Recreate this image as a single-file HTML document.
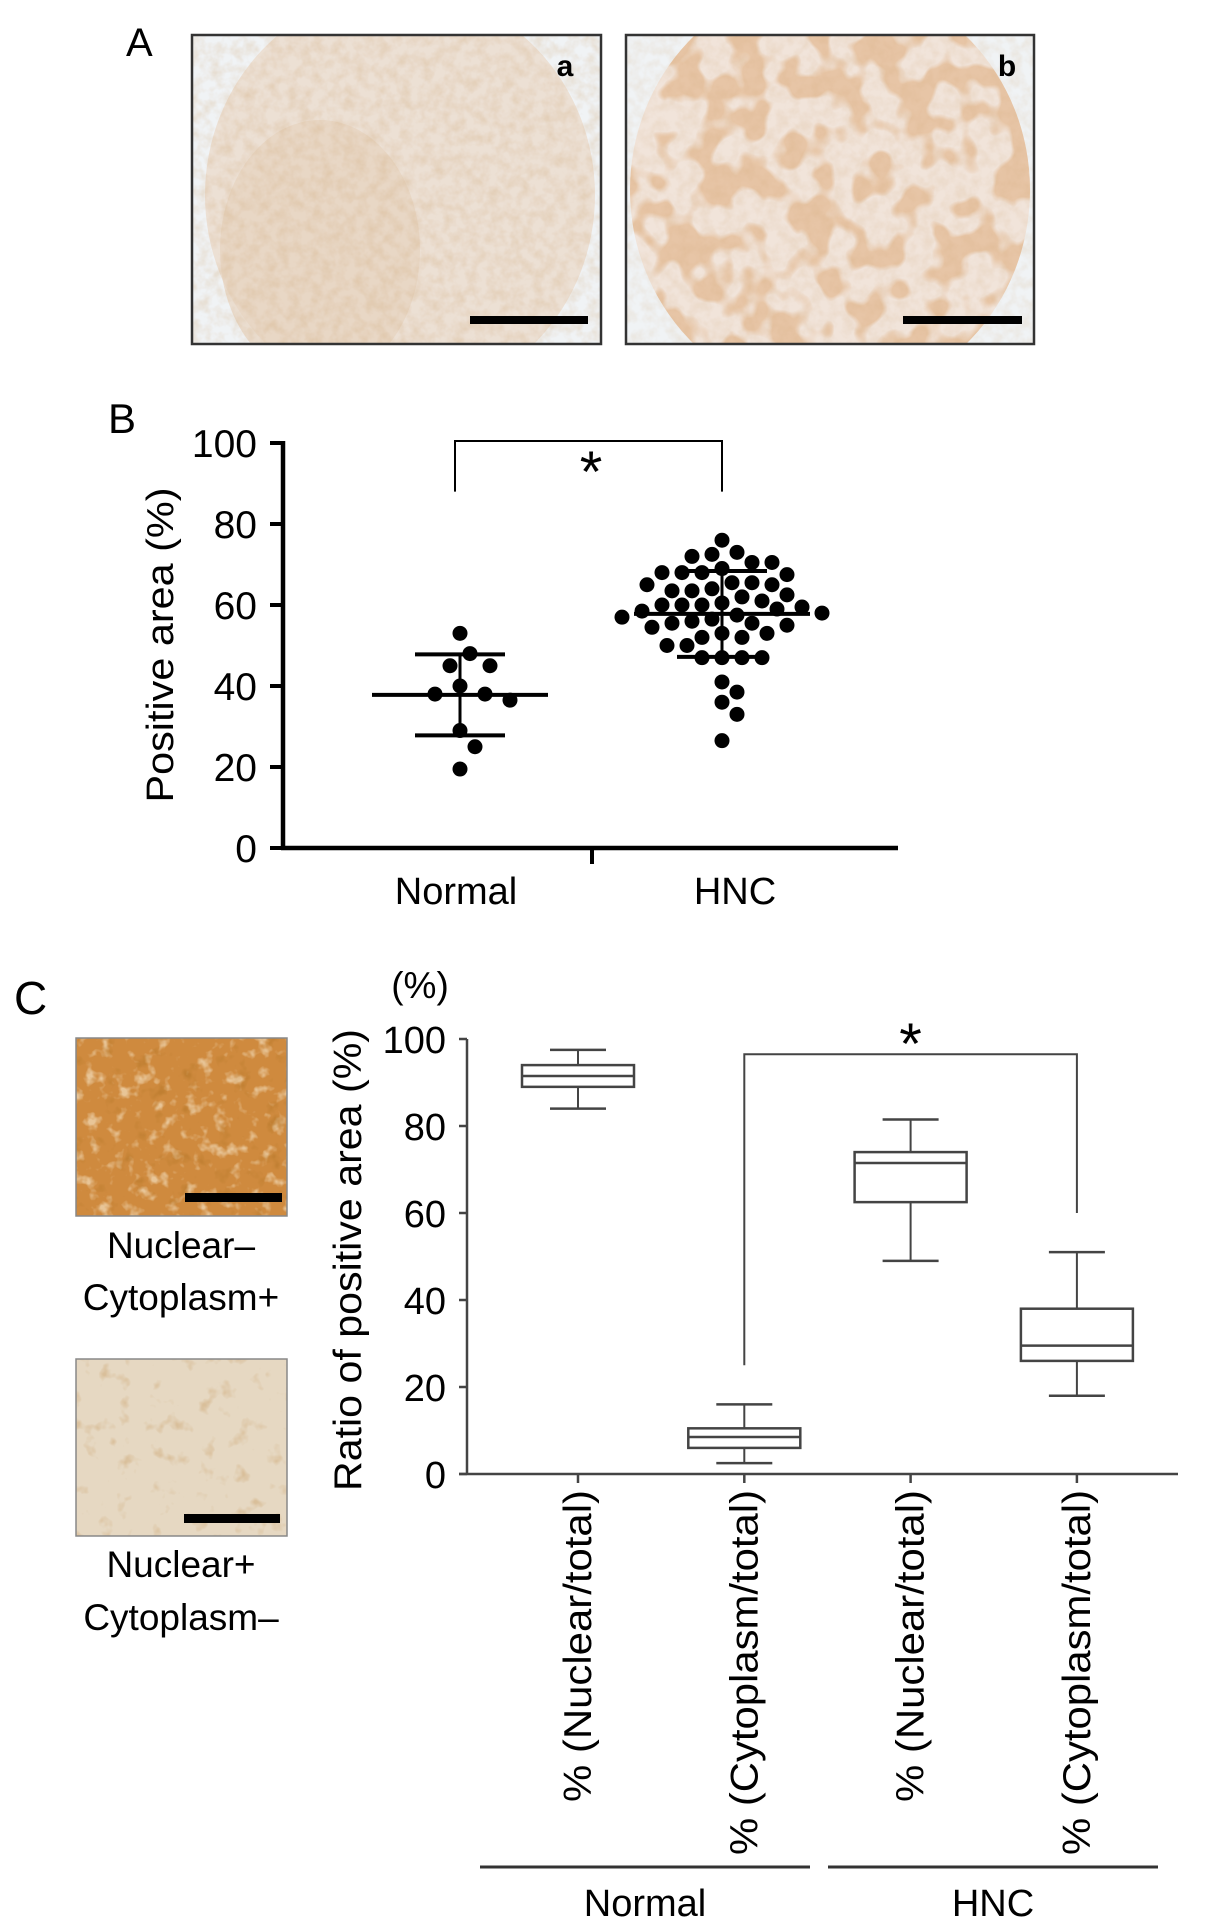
<!DOCTYPE html>
<html><head><meta charset="utf-8"><style>
html,body{margin:0;padding:0;background:#fff;}
svg{display:block;font-family:"Liberation Sans",Arial,sans-serif;}
</style></head><body>
<svg id="fig" width="1205" height="1932" viewBox="0 0 1205 1932">
<defs>
<filter id="tex" x="0" y="0" width="100%" height="100%">
<feTurbulence type="fractalNoise" baseFrequency="0.09" numOctaves="3" seed="3"/>
<feColorMatrix type="matrix" values="0 0 0 0 0.6  0 0 0 0 0.35  0 0 0 0 0.15  0 0 0 1.6 -0.55"/>
</filter>
<filter id="blob" x="0" y="0" width="100%" height="100%">
<feTurbulence type="fractalNoise" baseFrequency="0.03" numOctaves="2" seed="7"/>
<feColorMatrix type="matrix" values="0 0 0 0 0.80  0 0 0 0 0.56  0 0 0 0 0.38  0 0 0 9 -4.2"/>
</filter>
<filter id="cells" x="0" y="0" width="100%" height="100%">
<feTurbulence type="fractalNoise" baseFrequency="0.07" numOctaves="3" seed="11"/>
<feColorMatrix type="matrix" values="0 0 0 0 0.98  0 0 0 0 0.92  0 0 0 0 0.75  0 0 0 4 -2.2"/>
</filter>
<filter id="cells2" x="0" y="0" width="100%" height="100%">
<feTurbulence type="fractalNoise" baseFrequency="0.06" numOctaves="3" seed="5"/>
<feColorMatrix type="matrix" values="0 0 0 0 0.45  0 0 0 0 0.18  0 0 0 0 0.02  0 0 0 4 -2.4"/>
</filter>
<clipPath id="ca"><rect x="192" y="35" width="409" height="309"/></clipPath>
<clipPath id="cb"><rect x="626" y="35" width="408" height="309"/></clipPath>
<clipPath id="cbe"><ellipse cx="830" cy="190" rx="200" ry="210"/></clipPath>
<clipPath id="cc1"><rect x="76" y="1038" width="211" height="178"/></clipPath>
<clipPath id="cc2"><rect x="76" y="1359" width="211" height="177"/></clipPath>
</defs>

<!-- Panel A -->
<text x="126" y="56" font-size="40">A</text>
<g clip-path="url(#ca)">
<rect x="192" y="35" width="409" height="309" fill="#f0f3f5"/>
<ellipse cx="400" cy="195" rx="195" ry="205" fill="#ece0d4"/>
<ellipse cx="320" cy="250" rx="100" ry="130" fill="#e7d3bf" opacity="0.7"/>
<rect x="192" y="35" width="409" height="309" filter="url(#tex)" opacity="0.3"/>
</g>
<rect x="192" y="35" width="409" height="309" fill="none" stroke="#333" stroke-width="2.5"/>
<text x="565" y="76" font-size="30" font-weight="bold" text-anchor="middle">a</text>
<rect x="470" y="316" width="118" height="8" fill="#000"/>

<g clip-path="url(#cb)">
<rect x="626" y="35" width="408" height="309" fill="#f0f3f5"/>
<ellipse cx="830" cy="190" rx="200" ry="210" fill="#f1e4da"/>
<g clip-path="url(#cbe)"><rect x="626" y="35" width="408" height="309" filter="url(#blob)"/></g>
<rect x="626" y="35" width="408" height="309" filter="url(#tex)" opacity="0.2"/>
</g>
<rect x="626" y="35" width="408" height="309" fill="none" stroke="#333" stroke-width="2.5"/>
<text x="1007" y="76" font-size="30" font-weight="bold" text-anchor="middle">b</text>
<rect x="903" y="316" width="119" height="8" fill="#000"/>

<!-- Panel B -->
<text x="108" y="433" font-size="42">B</text>
<g id="chartB"></g>

<!-- Panel C -->
<text x="14" y="1014" font-size="46">C</text>
<g clip-path="url(#cc1)">
<rect x="76" y="1038" width="211" height="178" fill="#cf8a3e"/>
<rect x="76" y="1038" width="211" height="178" filter="url(#cells)" opacity="0.55"/>
<rect x="76" y="1038" width="211" height="178" filter="url(#cells2)" opacity="0.5"/>
</g>
<rect x="76" y="1038" width="211" height="178" fill="none" stroke="#888" stroke-width="1.5"/>
<rect x="185" y="1193" width="97" height="9" fill="#000"/>
<text x="181" y="1258" font-size="37" text-anchor="middle">Nuclear–</text>
<text x="181" y="1310" font-size="37" text-anchor="middle">Cytoplasm+</text>

<g clip-path="url(#cc2)">
<rect x="76" y="1359" width="211" height="177" fill="#e6d8c2"/>
<rect x="76" y="1359" width="211" height="177" filter="url(#cells2)" opacity="0.25"/>
</g>
<rect x="76" y="1359" width="211" height="177" fill="none" stroke="#888" stroke-width="1.5"/>
<rect x="184" y="1514" width="96" height="9" fill="#000"/>
<text x="181" y="1577" font-size="37" text-anchor="middle">Nuclear+</text>
<text x="181" y="1630" font-size="37" text-anchor="middle">Cytoplasm–</text>

<g id="chartC"></g>
</svg>
<script>
// ---------- Chart B data ----------
const bCategories = ["Normal", "HNC"];
const normalValues = [53, 48, 45, 45, 40, 38, 38, 36.5, 29, 25, 19.5];
const hncValues = [76, 73, 72.5, 72, 70.5, 70.5, 69, 68, 68, 68, 67.5, 65.5, 65.5, 65, 65, 64, 63.5, 63.5, 62, 60.5, 60, 60, 59.5, 59, 58.5, 58, 57.5, 57, 56.5, 56, 55.5, 55, 60, 61, 62.5, 55.5, 54.5, 53, 53, 52, 52, 50, 50, 47, 47, 47, 47, 41, 38.5, 36, 33, 26.5];
const bMeans = [37.8, 57.8];
const bSD = [10, 10.6];
const bTicks = [0, 20, 40, 60, 80, 100];
const bBracketLevel = 88;

// ---------- Chart C data ----------
const cCategories = ["% (Nuclear/total)", "% (Cytoplasm/total)", "% (Nuclear/total)", "% (Cytoplasm/total)"];
const cGroups = ["Normal", "HNC"];
const cMin = [84, 2.5, 49, 18];
const cQ1 = [89, 6, 62.5, 26];
const cMedian = [91.5, 8.5, 71.5, 29.5];
const cQ3 = [94, 10.5, 74, 38];
const cMax = [97.5, 16, 81.5, 51];
const cTicks = [0, 20, 40, 60, 80, 100];
const cBracket = {top: 96.5, left: 25, right: 60};

const NS = "http://www.w3.org/2000/svg";
function mk(parent, tag, attrs, text) {
  const e = document.createElementNS(NS, tag);
  for (const k in attrs) e.setAttribute(k, attrs[k]);
  if (text !== undefined) e.textContent = text;
  parent.appendChild(e);
  return e;
}

// ---------- Draw B ----------
(function(){
  const g = document.getElementById("chartB");
  const x0 = 283, x1 = 898, y0 = 848, y100 = 443;
  const yS = v => y0 - (v / 100) * (y0 - y100);
  const xS = i => [460, 722][i];
  let e;
  e = mk(g, "line", {x1: x0, y1: y100 - 2, x2: x0, y2: y0 + 2, stroke: "#000", "stroke-width": 4.5});
  
  
  e = mk(g, "line", {x1: x0 - 2, y1: y0, x2: x1, y2: y0, stroke: "#000", "stroke-width": 4.5});
  
  
  mk(g, "line", {x1: 592, y1: y0, x2: 592, y2: y0 + 16, stroke: "#000", "stroke-width": 4});
  bTicks.forEach(t => {
    mk(g, "line", {x1: x0 - 13, y1: yS(t), x2: x0, y2: yS(t), stroke: "#000", "stroke-width": 4});
    e = mk(g, "text", {x: 257, y: yS(t) + 14, "font-size": 39, "text-anchor": "end"}, String(t));
    
    
  });
  e = mk(g, "text", {transform: "translate(173,645) rotate(-90)", "font-size": 38, "text-anchor": "middle", textLength: 315, lengthAdjust: "spacingAndGlyphs"}, "Positive area (%)");
  
  
  const labelX = [456, 735];
  bCategories.forEach((c, i) => {
    e = mk(g, "text", {x: labelX[i], y: 904, "font-size": 38, "text-anchor": "middle"}, c);
    
    
  });
  e = mk(g, "polyline", {points: `${xS(0)-5},${yS(bBracketLevel)} ${xS(0)-5},${yS(100)-2} ${xS(1)},${yS(100)-2} ${xS(1)},${yS(bBracketLevel)}`, fill: "none", stroke: "#000", "stroke-width": 2});
  
  
  e = mk(g, "text", {x: (xS(0) + xS(1)) / 2, y: 492, "font-size": 58, "text-anchor": "middle"}, "*");
  
  
  const r = 7.5;
  [normalValues, hncValues].forEach((vals, gi) => {
    const placed = [];
    const sorted = vals.slice().sort((a, b) => b - a);
    const minD = gi === 0 ? 2 * r + 7 : 2 * r + 2;
    sorted.forEach(v => {
      const y = yS(v);
      let k = 0, x;
      while (true) {
        const off = (k === 0 ? 0 : (k % 2 ? 1 : -1) * Math.ceil(k / 2) * 5);
        x = xS(gi) + off;
        if (placed.every(p => Math.hypot(p[0] - x, p[1] - y) >= minD)) break;
        k++;
      }
      placed.push([x, y]);
      const c = mk(g, "circle", {cx: x, cy: y, r: r, fill: "#000"});
      
      
    });
    const cx = xS(gi), m = bMeans[gi], s = bSD[gi];
    e = mk(g, "line", {x1: cx - 88, y1: yS(m), x2: cx + 88, y2: yS(m), stroke: "#000", "stroke-width": 4});
    
    
    mk(g, "line", {x1: cx, y1: yS(m + s), x2: cx, y2: yS(m - s), stroke: "#000", "stroke-width": 3});
    mk(g, "line", {x1: cx - 45, y1: yS(m + s), x2: cx + 45, y2: yS(m + s), stroke: "#000", "stroke-width": 4});
    mk(g, "line", {x1: cx - 45, y1: yS(m - s), x2: cx + 45, y2: yS(m - s), stroke: "#000", "stroke-width": 4});
  });
})();

// ---------- Draw C ----------
(function(){
  const g = document.getElementById("chartC");
  const x0 = 467, x1 = 1178, y0 = 1474, y100 = 1039;
  const yS = v => y0 - (v / 100) * (y0 - y100);
  const xS = i => 578 + i * 166.3;
  const col = "#444";
  let e;
  e = mk(g, "line", {x1: x0, y1: y100, x2: x0, y2: y0, stroke: col, "stroke-width": 2.5});
  
  
  e = mk(g, "line", {x1: x0 - 8, y1: y0, x2: x1, y2: y0, stroke: col, "stroke-width": 2.5});
  
  
  cTicks.forEach(t => {
    mk(g, "line", {x1: x0 - 8, y1: yS(t), x2: x0, y2: yS(t), stroke: col, "stroke-width": 2.5});
    e = mk(g, "text", {x: 446, y: yS(t) + 14, "font-size": 38, "text-anchor": "end"}, String(t));
    
    
  });
  e = mk(g, "text", {x: 420, y: 998, "font-size": 37, "text-anchor": "middle"}, "(%)");
  
  
  e = mk(g, "text", {transform: "translate(361,1260) rotate(-90)", "font-size": 39, "text-anchor": "middle", textLength: 462, lengthAdjust: "spacingAndGlyphs"}, "Ratio of positive area (%)");
  
  
  cCategories.forEach((c, i) => {
    const cx = xS(i);
    mk(g, "line", {x1: cx, y1: y0, x2: cx, y2: y0 + 9, stroke: col, "stroke-width": 2.5});
    const len = i % 2 ? 365 : 312;
    e = mk(g, "text", {transform: `translate(${cx + 13},1490) rotate(-90)`, "font-size": 39, "text-anchor": "end", textLength: len, lengthAdjust: "spacingAndGlyphs"}, c);
    
    
    const bw = 56, cw = 28;
    mk(g, "line", {x1: cx, y1: yS(cMax[i]), x2: cx, y2: yS(cQ3[i]), stroke: col, "stroke-width": 2});
    mk(g, "line", {x1: cx, y1: yS(cQ1[i]), x2: cx, y2: yS(cMin[i]), stroke: col, "stroke-width": 2});
    mk(g, "line", {x1: cx - cw, y1: yS(cMax[i]), x2: cx + cw, y2: yS(cMax[i]), stroke: col, "stroke-width": 2.5});
    mk(g, "line", {x1: cx - cw, y1: yS(cMin[i]), x2: cx + cw, y2: yS(cMin[i]), stroke: col, "stroke-width": 2.5});
    e = mk(g, "rect", {x: cx - bw, y: yS(cQ3[i]), width: 2 * bw, height: yS(cQ1[i]) - yS(cQ3[i]), fill: "#fff", stroke: col, "stroke-width": 2.5});
    
    
    e = mk(g, "line", {x1: cx - bw, y1: yS(cMedian[i]), x2: cx + bw, y2: yS(cMedian[i]), stroke: col, "stroke-width": 2.5});
    
    
  });
  e = mk(g, "polyline", {points: `${xS(1)},${yS(cBracket.left)} ${xS(1)},${yS(cBracket.top)} ${xS(3)},${yS(cBracket.top)} ${xS(3)},${yS(cBracket.right)}`, fill: "none", stroke: col, "stroke-width": 2});
  
  
  e = mk(g, "text", {x: xS(2), y: 1064, "font-size": 58, "text-anchor": "middle"}, "*");
  
  
  const gx = [[480, 810], [828, 1158]];
  cGroups.forEach((name, i) => {
    e = mk(g, "line", {x1: gx[i][0], y1: 1867, x2: gx[i][1], y2: 1867, stroke: "#333", "stroke-width": 3});
    
    
    e = mk(g, "text", {x: (gx[i][0] + gx[i][1]) / 2, y: 1916, "font-size": 38, "text-anchor": "middle"}, name);
    
    
  });
})();
</script>
</body></html>
